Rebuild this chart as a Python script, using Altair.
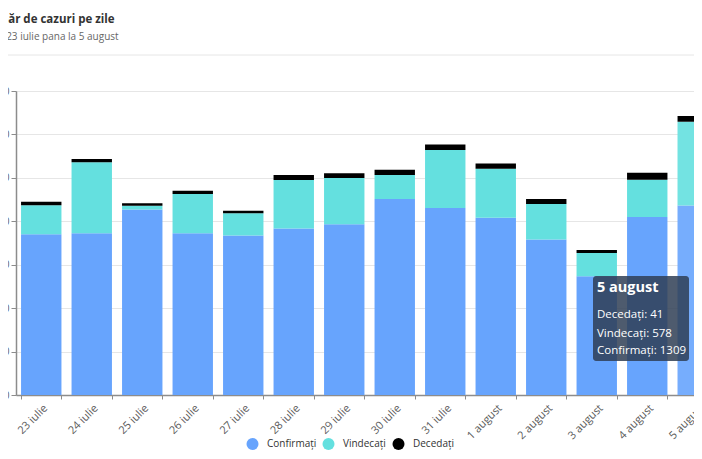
import altair as alt
import pandas as pd

# ---- data ----
dates = ["23 iulie", "24 iulie", "25 iulie", "26 iulie", "27 iulie", "28 iulie",
         "29 iulie", "30 iulie", "31 iulie", "1 august", "2 august", "3 august",
         "4 august", "5 august"]
confirmati = [1110, 1117, 1282, 1117, 1101, 1151, 1179, 1354, 1292, 1225, 1075, 820, 1230, 1309]
vindecati = [200, 490, 26, 272, 154, 334, 320, 166, 400, 338, 244, 161, 257, 578]
decedati = [25, 23, 16, 22, 18, 35, 32, 36, 39, 37, 35, 21, 49, 41]
series = ["Confirmați", "Vindecați", "Decedați"]
colors = ["#67a4fd", "#64e0df", "#000000"]
y_ticks = [0, 300, 600, 900, 1200, 1500, 1800, 2100]
hover_date = "5 august"

rows = []
for i, d in enumerate(dates):
    for k, vals in enumerate([confirmati, vindecati, decedati]):
        rows.append({"date": d, "serie": series[k], "value": vals[i], "ord": k})
df = pd.DataFrame(rows)

FONT = "Open Sans"
W, H = 678, 304

def xenc():
    return alt.X("date:N", sort=dates, title=None,
                 scale=alt.Scale(range=[0, 707], paddingInner=0.2, paddingOuter=0.1),
                 axis=alt.Axis(labelAngle=-45, tickBand="extent", grid=False,
                               domainColor="#8c8c8c", domainWidth=1.5,
                               tickColor="#8c8c8c", tickSize=4,
                               labelFont=FONT, labelFontSize=11, labelColor="#5a5a5a",
                               labelPadding=3))

def yenc():
    return alt.Y("value:Q", stack="zero", title=None,
                 scale=alt.Scale(domain=[0, 2100], nice=False),
                 axis=alt.Axis(values=y_ticks, format="d", grid=True, gridColor="#e6e6e6",
                               domainColor="#8c8c8c", domainWidth=1.5,
                               tickColor="#8c8c8c", tickSize=5, labelPadding=2,
                               labelFont=FONT, labelFontSize=10.5, labelColor="#666666"))

bars = alt.Chart(df).mark_bar().encode(
    x=xenc(),
    y=yenc(),
    color=alt.Color("serie:N", scale=alt.Scale(domain=series, range=colors),
                    legend=alt.Legend(title=None, orient="none", direction="horizontal",
                                      legendX=230.5, legendY=347,
                                      symbolType="circle", symbolSize=144,
                                      symbolStrokeWidth=0, symbolOpacity=1,
                                      labelFont=FONT, labelFontSize=10,
                                      labelColor="#333333", labelOffset=8.5,
                                      columnPadding=6)),
    order=alt.Order("ord:Q"),
)

# hover highlight of the last column (lighter colours)
hover = alt.Chart(df).transform_filter(
    (alt.datum.date == hover_date) & (alt.datum.serie != "Decedați")
).mark_bar(color="#ffffff", opacity=0.1).encode(
    x=xenc(), y=yenc(), order=alt.Order("ord:Q"),
)

cross = alt.Chart(pd.DataFrame({"date": [hover_date]})).mark_rule(
    color="#c8c8c8", strokeWidth=1
).encode(x=alt.X("date:N", sort=dates), y=alt.value(0), y2=alt.value(H))

sep = alt.Chart(pd.DataFrame({"a": [0]})).mark_rule(color="#e6e6e6", strokeWidth=1).encode(
    x=alt.value(-16), x2=alt.value(700), y=alt.value(-36)
)

one = pd.DataFrame({"a": [0]})
tip_box = alt.Chart(one).mark_rect(color="#2f3e55", opacity=0.85, cornerRadius=3).encode(
    x=alt.value(577), x2=alt.value(673), y=alt.value(185), y2=alt.value(270)
)
i_last = dates.index(hover_date)
tip_lines = [
    (hover_date, 201, 14.5, "bold"),
    (f"Decedați: {decedati[i_last]}", 227, 11.5, "normal"),
    (f"Vindecați: {vindecati[i_last]}", 246, 11.5, "normal"),
    (f"Confirmați: {confirmati[i_last]}", 263, 11.5, "normal"),
]
tip_texts = [
    alt.Chart(one).mark_text(align="left", baseline="alphabetic", font=FONT,
                             fontSize=fs, fontWeight=fw, color="#ffffff").encode(
        x=alt.value(581), y=alt.value(yy), text=alt.value(t))
    for t, yy, fs, fw in tip_lines
]

chart = alt.layer(bars, hover, cross, sep, tip_box, *tip_texts).properties(
    width=W, height=H,
    autosize=alt.AutoSizeParams(type="none"),
    padding={"left": 8, "top": 83, "right": 0, "bottom": 56},
    title=alt.TitleParams(
        text="Număr de cazuri pe zile",
        subtitle="De la 23 iulie pana la 5 august",
        anchor="start", frame="group", dx=-36, offset=13,
        font=FONT, fontSize=11.5, fontWeight="bold", color="#333333",
        subtitleFont=FONT, subtitleFontSize=10, subtitleColor="#666666",
        subtitlePadding=6,
    ),
).configure_view(stroke=None).configure(background="#ffffff")

chart.save("out.html", embed_options={"renderer": "svg", "actions": False})
